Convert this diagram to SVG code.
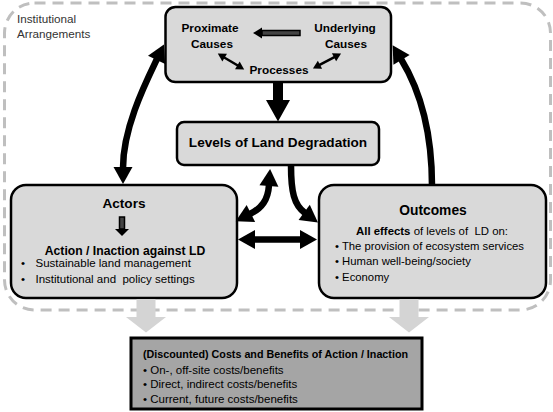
<svg xmlns="http://www.w3.org/2000/svg" width="553" height="412" viewBox="0 0 553 412">
<style>
text{font-family:"Liberation Sans",Arial,sans-serif;fill:#000}
.b{font-weight:bold}
.box{fill:#d9d9d9;stroke:#000;stroke-width:2.5}
.lbl{font-size:11.8px;font-weight:bold;text-anchor:middle}
.bul{font-size:11.5px}
.big{stroke:#000;stroke-width:6.5;fill:none}
.thin{stroke:#000;stroke-width:2.5;fill:none}
.gray{fill:#d4d4d4}
.shaft{fill:#444;stroke:#000;stroke-width:1.5}
</style>
<defs>
<marker id="ah" markerUnits="userSpaceOnUse" markerWidth="20" markerHeight="20" refX="1" refY="10" orient="auto-start-reverse" overflow="visible"><path d="M0,0.5 L17,10 L0,19.5 z" fill="#000"/></marker>
<marker id="sh" markerUnits="userSpaceOnUse" markerWidth="10" markerHeight="10" refX="1" refY="4.5" orient="auto-start-reverse" overflow="visible"><path d="M0,0 L8,4.5 L0,9 z" fill="#000"/></marker>
</defs>
<rect x="4.5" y="3" width="546" height="307" rx="30" fill="none" stroke="#bfbfbf" stroke-width="3" stroke-dasharray="11 7"/>
<text x="17" y="23" style="font-size:11.7px;fill:#333">Institutional</text>
<text x="17" y="38" style="font-size:11.7px;fill:#333">Arrangements</text>
<g id="causes">
<rect class="box" x="165.5" y="7" width="225.5" height="75" rx="10"/>
<text class="lbl" x="210" y="31.5">Proximate</text>
<text class="lbl" x="212" y="47.5">Causes</text>
<text class="lbl" x="345" y="31.5">Underlying</text>
<text class="lbl" x="346" y="47.5">Causes</text>
<text class="lbl" x="279" y="73.5">Processes</text>
<rect class="shaft" x="262" y="30.5" width="38" height="5"/>
<path d="M262,27.5 L253,33 L262,38.5 z" fill="#000"/>
<path class="thin" d="M223.8,57.2 L238.2,65.8" marker-start="url(#sh)" marker-end="url(#sh)"/>
<path class="thin" d="M319.1,65.2 L334.9,56.8" marker-start="url(#sh)" marker-end="url(#sh)"/>
</g>
<g id="levels">
<rect class="box" x="177" y="122" width="202" height="43" rx="7"/>
<text class="b" x="278" y="147" text-anchor="middle" style="font-size:13.6px">Levels of Land Degradation</text>
</g>
<g id="actors">
<rect class="box" x="11" y="185" width="226" height="113" rx="15"/>
<text class="b" x="124" y="208" text-anchor="middle" style="font-size:13.6px">Actors</text>
<rect class="shaft" x="119.5" y="217" width="5" height="12"/>
<path d="M115,229 L129,229 L122,236 z" fill="#000"/>
<text class="b" x="125" y="254.5" text-anchor="middle" style="font-size:12.2px">Action / Inaction against LD</text>
<text class="bul" x="21" y="266.5">• <tspan x="35.5">Sustainable land management</tspan></text>
<text class="bul" x="21" y="282.5" xml:space="preserve">• <tspan x="35.5">Institutional and  policy settings</tspan></text>
</g>
<g id="outcomes">
<rect class="box" x="319" y="185" width="227" height="113" rx="15"/>
<text class="b" x="433" y="215" text-anchor="middle" style="font-size:13.8px">Outcomes</text>
<text x="432" y="235" text-anchor="middle" style="font-size:11.4px" xml:space="preserve"><tspan class="b">All effects</tspan> of levels of  LD on:</text>
<text class="bul" x="335" y="250" style="font-size:11.3px">• The provision of ecosystem services</text>
<text class="bul" x="335" y="265" style="font-size:11.3px">• Human well-being/society</text>
<text class="bul" x="335" y="281" style="font-size:11.3px">• Economy</text>
</g>
<g id="costs">
<path class="gray" d="M136.5,299 H155.5 V317 H166 L146,332.5 L126,317 H136.5 z"/>
<path class="gray" d="M399.5,299 H418.5 V317 H429 L409,332.5 L389,317 H399.5 z"/>
<rect x="131" y="338" width="291" height="71" fill="#a5a5a5" stroke="#000" stroke-width="3"/>
<text class="b" x="143" y="357.5" style="font-size:11px" textLength="265" lengthAdjust="spacingAndGlyphs">(Discounted) Costs and Benefits of Action / Inaction</text>
<text class="bul" x="143" y="373.5">• On-, off-site costs/benefits</text>
<text class="bul" x="143" y="387.5">• Direct, indirect costs/benefits</text>
<text class="bul" x="143" y="402.5">• Current, future costs/benefits</text>
</g>
<g id="connectors">
<path d="M273,82 H283 V100 H290 L278,121.5 L266,100 H273 z" fill="#000"/>
<path class="big" d="M123,168 C123,128 145,84 157,59" marker-start="url(#ah)" marker-end="url(#ah)"/>
<path class="big" d="M432,186 C432,130 420,90 401,59" marker-end="url(#ah)"/>
<path class="big" d="M269,185 C268,200 262,208 250,214" marker-start="url(#ah)" marker-end="url(#ah)"/>
<path class="big" d="M291,165 C291,192 294,205 305,213" marker-end="url(#ah)"/>
<path class="big" d="M254,239.5 L301,239.5" marker-start="url(#ah)" marker-end="url(#ah)"/>
</g>
</svg>
